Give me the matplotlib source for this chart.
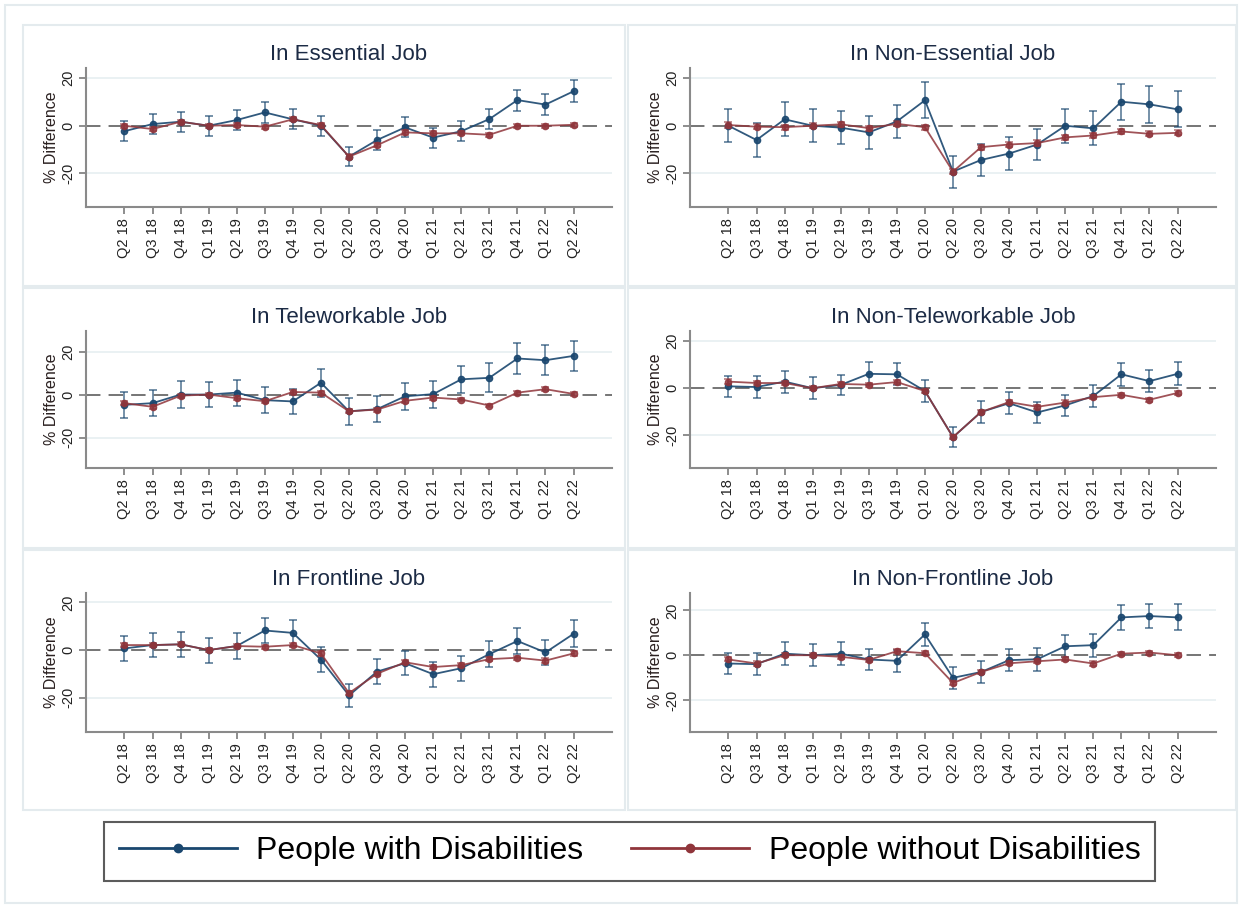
import matplotlib.pyplot as plt
from matplotlib.lines import Line2D
from matplotlib.patches import Rectangle

plt.rcParams["font.family"] = ["Liberation Sans", "DejaVu Sans"]

quarters = ["Q2 18", "Q3 18", "Q4 18", "Q1 19", "Q2 19", "Q3 19", "Q4 19", "Q1 20",
            "Q2 20", "Q3 20", "Q4 20", "Q1 21", "Q2 21", "Q3 21", "Q4 21", "Q1 22", "Q2 22"]

titles = ["In Essential Job", "In Non-Essential Job",
          "In Teleworkable Job", "In Non-Teleworkable Job",
          "In Frontline Job", "In Non-Frontline Job"]

# % difference, people with disabilities (point estimate and CI half-width)
dis_essential = [-2.3, 0.7, 1.7, 0.0, 2.4, 5.6, 2.7, 0.0, -13.0, -6.0, -0.7, -5.0, -2.3, 2.8, 10.8, 8.9, 14.5]
dis_essential_ci = [4.2, 4.2, 4.2, 4.2, 4.2, 4.4, 4.2, 4.2, 4.0, 4.2, 4.2, 4.2, 4.2, 4.2, 4.4, 4.5, 4.6]
dis_nonessential = [0.0, -6.0, 2.7, 0.0, -0.8, -2.8, 1.8, 10.7, -19.3, -14.4, -11.7, -7.9, 0.0, -1.1, 10.1, 9.0, 6.9]
dis_nonessential_ci = [7.0, 7.0, 7.2, 7.0, 7.0, 6.9, 7.1, 7.6, 6.7, 6.8, 6.8, 6.7, 7.1, 7.1, 7.6, 7.7, 7.6]
dis_tele = [-4.8, -4.0, 0.0, 0.0, 0.9, -2.6, -3.2, 5.5, -7.8, -6.8, -0.8, 0.2, 7.1, 7.8, 16.8, 16.0, 18.0]
dis_tele_ci = [5.9, 6.0, 6.1, 6.0, 6.1, 6.0, 6.0, 6.5, 6.2, 6.2, 6.3, 6.3, 6.4, 6.7, 7.0, 7.0, 7.1]
dis_nontele = [0.7, 0.4, 2.7, -0.1, 1.3, 6.0, 5.8, -1.3, -20.9, -10.2, -6.5, -10.4, -7.4, -3.4, 5.8, 2.9, 6.0]
dis_nontele_ci = [4.5, 4.8, 4.7, 4.6, 4.4, 4.9, 4.6, 4.5, 4.3, 4.5, 4.6, 4.4, 4.4, 4.6, 4.8, 4.7, 4.9]
dis_front = [0.7, 2.1, 2.4, 0.0, 1.7, 8.2, 7.2, -4.0, -19.0, -9.0, -5.5, -10.1, -7.6, -1.7, 3.8, -1.0, 6.8]
dis_front_ci = [5.2, 5.2, 5.2, 5.2, 5.3, 5.4, 5.3, 5.2, 4.9, 5.3, 5.1, 5.2, 5.2, 5.3, 5.4, 5.3, 5.7]
dis_nonfront = [-3.7, -4.0, 0.7, 0.0, 0.7, -1.9, -2.5, 9.3, -10.1, -7.5, -2.2, -1.8, 4.0, 4.5, 16.9, 17.5, 16.9]
dis_nonfront_ci = [4.9, 4.9, 5.2, 4.8, 5.0, 4.9, 5.0, 5.2, 4.8, 4.9, 4.9, 5.1, 5.0, 5.2, 5.6, 5.5, 5.8]

# % difference, people without disabilities
nodis_essential = [0.0, -1.4, 1.7, 0.0, 0.3, -0.4, 2.7, 0.3, -13.0, -8.2, -2.8, -3.2, -3.2, -3.8, 0.0, 0.0, 0.4]
nodis_nonessential = [0.3, -0.4, -0.6, 0.0, 0.6, -1.0, 0.8, -0.6, -19.3, -9.0, -7.9, -7.3, -4.9, -4.1, -2.4, -3.4, -3.0]
nodis_tele = [-4.0, -5.7, -0.5, 0.0, -1.7, -3.1, 1.2, 0.9, -7.8, -7.0, -2.9, -1.4, -2.3, -5.1, 0.9, 2.5, 0.3]
nodis_nontele = [2.7, 2.1, 2.1, -0.1, 1.7, 1.4, 2.5, -1.3, -20.9, -10.2, -6.0, -8.0, -6.2, -3.9, -2.9, -5.0, -2.1]
nodis_front = [2.1, 2.1, 2.4, 0.0, 1.7, 1.4, 2.1, -1.4, -18.0, -9.9, -5.1, -7.1, -6.3, -3.8, -3.2, -4.4, -1.4]
nodis_nonfront = [-1.9, -3.7, 0.0, 0.0, -0.7, -2.1, 1.8, 0.9, -12.4, -7.5, -3.6, -2.7, -1.9, -3.7, 0.7, 1.2, 0.0]
nodis_ci = [0.9, 1.1, 0.9, 0.9, 0.9, 0.9]

dis_series = [dis_essential, dis_nonessential, dis_tele, dis_nontele, dis_front, dis_nonfront]
dis_cis = [dis_essential_ci, dis_nonessential_ci, dis_tele_ci, dis_nontele_ci, dis_front_ci, dis_nonfront_ci]
nodis_series = [nodis_essential, nodis_nonessential, nodis_tele, nodis_nontele, nodis_front, nodis_nonfront]
ylims = [(-34.2, 24.3), (-34.2, 24.3), (-34.2, 29.6), (-34.0, 24.2), (-34.3, 23.9), (-34.3, 27.8)]

BLUE = "#1a476f"
RED = "#90353b"
W, H = 1241, 907

fig = plt.figure(figsize=(W / 100, H / 100), dpi=100)

# light panel frames like the Stata graph regions
fig.add_artist(Rectangle((5 / W, 1 - 903 / H), 1232 / W, 898 / H, transform=fig.transFigure,
                         fill=False, ec="#e4ebee", lw=1.5))
for (x0, x1) in [(23, 625), (628, 1236)]:
    for (y0, y1) in [(25, 286), (288, 548), (550, 810)]:
        fig.add_artist(Rectangle((x0 / W, 1 - y1 / H), (x1 - x0) / W, (y1 - y0) / H,
                                 transform=fig.transFigure, fill=False, ec="#e4ebee", lw=1.5))

col_left = [86, 690]
row_top = [(68, 207), (331, 468), (593, 732)]
x = list(range(1, len(quarters) + 1))

for i in range(6):
    r, c = divmod(i, 2)
    top, bot = row_top[r]
    ax = fig.add_axes([col_left[c] / W, 1 - bot / H, 526 / W, (bot - top) / H])

    ax.axhline(0, color="#6a6a6a", lw=1.3, ls=(0, (8, 4.5)), zorder=1)
    for g in (-20, 20):
        ax.axhline(g, color="#e6eff1", lw=1.2, zorder=0)

    ax.errorbar(x, dis_series[i], yerr=dis_cis[i], fmt="none", ecolor=BLUE, alpha=0.65,
                elinewidth=1.3, capsize=2.8, capthick=1.3, zorder=2)
    ax.plot(x, dis_series[i], color=BLUE, lw=1.3, marker="o", ms=4.5, alpha=0.9, zorder=3)
    ax.errorbar(x, nodis_series[i], yerr=nodis_ci[i], fmt="none", ecolor=RED, alpha=0.6,
                elinewidth=1.3, capsize=2.6, capthick=1.3, zorder=4)
    ax.plot(x, nodis_series[i], color=RED, lw=1.3, marker="o", ms=4.5, alpha=0.85, zorder=5)

    ax.set_xlim(-0.37, 18.37)
    ax.set_ylim(*ylims[i])
    ax.set_xticks(x)
    ax.set_xticklabels(quarters, rotation=90, fontsize=10.5, color="#222222")
    ax.set_yticks([-20, 0, 20])
    ax.set_yticklabels(["-20", "0", "20"], rotation=90, va="center", fontsize=10.5, color="#222222")
    ax.tick_params(axis="both", length=5, width=1.2, color="#7a7a7a", pad=3)
    ax.set_ylabel("% Difference", fontsize=11.5, color="#2a2020", labelpad=1)
    ax.set_title(titles[i], fontsize=16, color="#1c2b45", pad=6)
    for s in ("top", "right"):
        ax.spines[s].set_visible(False)
    for s in ("left", "bottom"):
        ax.spines[s].set_color("#8a8a8a")
        ax.spines[s].set_linewidth(1.5)

handles = [Line2D([], [], color=BLUE, lw=2, marker="o", ms=6),
           Line2D([], [], color=RED, lw=2, marker="o", ms=6)]
leg = fig.legend(handles, ["People with Disabilities", "People without Disabilities"],
                 loc="center", bbox_to_anchor=(629.5 / W, 1 - 851.5 / H), ncol=2,
                 fontsize=23, handlelength=3.7, handletextpad=0.6, columnspacing=1.5,
                 fancybox=False, edgecolor="#333333", borderpad=0.45)
leg.get_frame().set_linewidth(1.5)

fig.savefig("out.png", dpi=100, facecolor="white")
